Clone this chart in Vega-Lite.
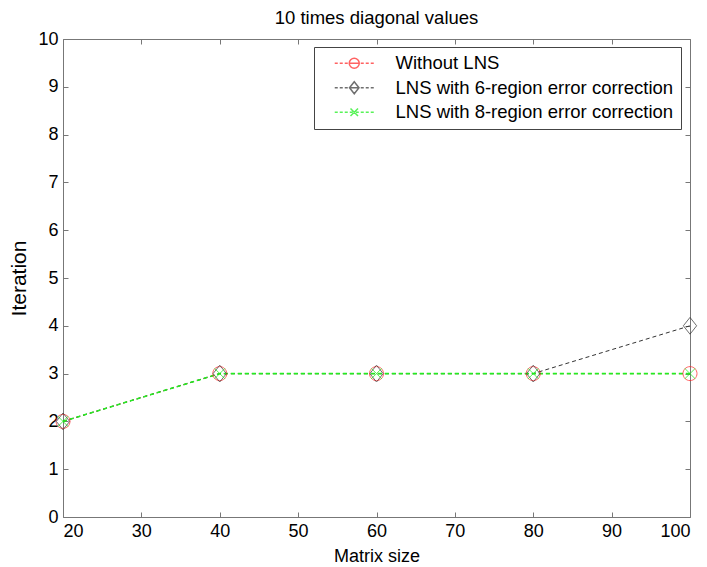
{
  "$schema": "https://vega.github.io/schema/vega-lite/v6.json",
  "width": 627,
  "height": 478,
  "autosize": "none",
  "padding": {"left": 63, "top": 39, "right": 17, "bottom": 50},
  "background": "white",
  "title": {"text": "10 times diagonal values", "fontSize": 18.5, "fontWeight": "normal", "font": "Liberation Sans", "color": "black", "offset": 3},
  "config": {
    "view": {"stroke": "#777", "strokeWidth": 1},
    "axis": {"grid": false, "domain": false, "tickColor": "#777", "tickSize": -5, "labelFont": "Liberation Sans", "labelFontSize": 18, "labelColor": "black", "titleFont": "Liberation Sans", "titleFontSize": 18, "titleFontWeight": "normal", "titleColor": "black"},
    "legend": {"labelFont": "Liberation Sans", "labelFontSize": 18.5, "labelColor": "black", "labelLimit": 0}
  },
  "data": {"values": [
    {"series": "Without LNS", "size": 20, "iter": 2},
    {"series": "Without LNS", "size": 40, "iter": 3},
    {"series": "Without LNS", "size": 60, "iter": 3},
    {"series": "Without LNS", "size": 80, "iter": 3},
    {"series": "Without LNS", "size": 100, "iter": 3},
    {"series": "LNS with 6-region error correction", "size": 20, "iter": 2},
    {"series": "LNS with 6-region error correction", "size": 40, "iter": 3},
    {"series": "LNS with 6-region error correction", "size": 60, "iter": 3},
    {"series": "LNS with 6-region error correction", "size": 80, "iter": 3},
    {"series": "LNS with 6-region error correction", "size": 100, "iter": 4},
    {"series": "LNS with 8-region error correction", "size": 20, "iter": 2},
    {"series": "LNS with 8-region error correction", "size": 40, "iter": 3},
    {"series": "LNS with 8-region error correction", "size": 60, "iter": 3},
    {"series": "LNS with 8-region error correction", "size": 80, "iter": 3},
    {"series": "LNS with 8-region error correction", "size": 100, "iter": 3}
  ]},
  "layer": [
    {
      "transform": [{"filter": "datum.series === 'Without LNS'"}],
      "mark": {"type": "line", "strokeDash": [4, 3], "strokeWidth": 1, "color": "#ff2020"},
      "encoding": {
        "x": {"field": "size", "type": "quantitative", "scale": {"domain": [20, 100], "nice": false, "zero": false},
              "axis": {"orient": "bottom", "values": [20, 30, 40, 50, 60, 70, 80, 90, 100], "title": "Matrix size", "labelPadding": 10.5, "titlePadding": 7}},
        "y": {"field": "iter", "type": "quantitative", "scale": {"domain": [0, 10], "nice": false},
              "axis": {"orient": "left", "values": [0, 1, 2, 3, 4, 5, 6, 7, 8, 9, 10], "title": "Iteration", "titleFontSize": 21, "labelPadding": 10, "titlePadding": 8}}
      }
    },
    {
      "transform": [{"filter": "datum.series === 'LNS with 6-region error correction'"}],
      "mark": {"type": "line", "strokeDash": [4, 3], "strokeWidth": 1, "color": "#333333"},
      "encoding": {
        "x": {"field": "size", "type": "quantitative", "axis": null},
        "y": {"field": "iter", "type": "quantitative", "axis": null}
      }
    },
    {
      "transform": [{"filter": "datum.series === 'LNS with 8-region error correction'"}],
      "mark": {"type": "line", "strokeDash": [4, 3], "strokeWidth": 1.6, "color": "#22ee22"},
      "encoding": {
        "x": {"field": "size", "type": "quantitative", "axis": null},
        "y": {"field": "iter", "type": "quantitative", "axis": null}
      }
    },
    {
      "mark": {"type": "point", "filled": false, "strokeWidth": 1, "size": 196},
      "encoding": {
        "x": {"field": "size", "type": "quantitative", "axis": {"orient": "top", "values": [20, 30, 40, 50, 60, 70, 80, 90, 100], "labels": false, "title": null}},
        "y": {"field": "iter", "type": "quantitative", "axis": {"orient": "right", "values": [0, 1, 2, 3, 4, 5, 6, 7, 8, 9, 10], "labels": false, "title": null}},
        "color": {"field": "series", "type": "nominal", "legend": null,
                  "scale": {"domain": ["Without LNS", "LNS with 6-region error correction", "LNS with 8-region error correction"], "range": ["#ff2020", "#333333", "#11ee11"]}},
        "shape": {"field": "series", "type": "nominal", "legend": null,
                  "scale": {"domain": ["Without LNS", "LNS with 6-region error correction", "LNS with 8-region error correction"],
                            "range": ["M-1,0A1,1,0,1,1,1,0A1,1,0,1,1,-1,0Z", "M0,-1.2L0.95,0L0,1.2L-0.95,0Z", "M-0.75,-0.75L0.75,0.75M0.75,-0.75L-0.75,0.75"]}}
      }
    },
    {
      "transform": [{"filter": "false"}],
      "mark": {"type": "point", "filled": false, "strokeWidth": 1, "size": 196},
      "encoding": {
        "x": {"field": "size", "type": "quantitative", "axis": null},
        "y": {"field": "iter", "type": "quantitative", "axis": null},
        "color": {"field": "series", "type": "nominal",
                  "scale": {"domain": ["Without LNS", "LNS with 6-region error correction", "LNS with 8-region error correction"], "range": ["#ff2020", "#333333", "#11ee11"]},
                  "legend": {"title": null, "orient": "none", "legendX": 251, "legendY": 8, "fillColor": "white", "strokeColor": "#444", "padding": 7, "rowPadding": 5.5, "symbolOffset": 24, "labelOffset": 32}},
        "shape": {"field": "series", "type": "nominal",
                  "scale": {"domain": ["Without LNS", "LNS with 6-region error correction", "LNS with 8-region error correction"],
                            "range": [
                              "M-3.9,0H-3.3M-2.9,0H-2.3M-1.9,0H-1.3M-0.9,0H-0.3M0.3,0H0.9M1.3,0H1.9M2.3,0H2.9M3.3,0H3.9M-0.3,0H0.3M-1,0A1,1,0,1,1,1,0A1,1,0,1,1,-1,0Z",
                              "M-3.9,0H-3.3M-2.9,0H-2.3M-1.9,0H-1.3M-0.9,0H-0.3M0.3,0H0.9M1.3,0H1.9M2.3,0H2.9M3.3,0H3.9M-0.3,0H0.3M0,-1.2L0.95,0L0,1.2L-0.95,0Z",
                              "M-3.9,0H-3.3M-2.9,0H-2.3M-1.9,0H-1.3M-0.9,0H-0.3M0.3,0H0.9M1.3,0H1.9M2.3,0H2.9M3.3,0H3.9M-0.75,-0.75L0.75,0.75M0.75,-0.75L-0.75,0.75"]},
                  "legend": {"title": null, "orient": "none", "legendX": 251, "legendY": 8, "fillColor": "white", "strokeColor": "#444", "padding": 7, "rowPadding": 5.5, "symbolOffset": 24, "labelOffset": 32}}
      }
    }
  ],
  "resolve": {"axis": {"x": "independent", "y": "independent"}, "scale": {"color": "independent", "shape": "independent"}}
}
